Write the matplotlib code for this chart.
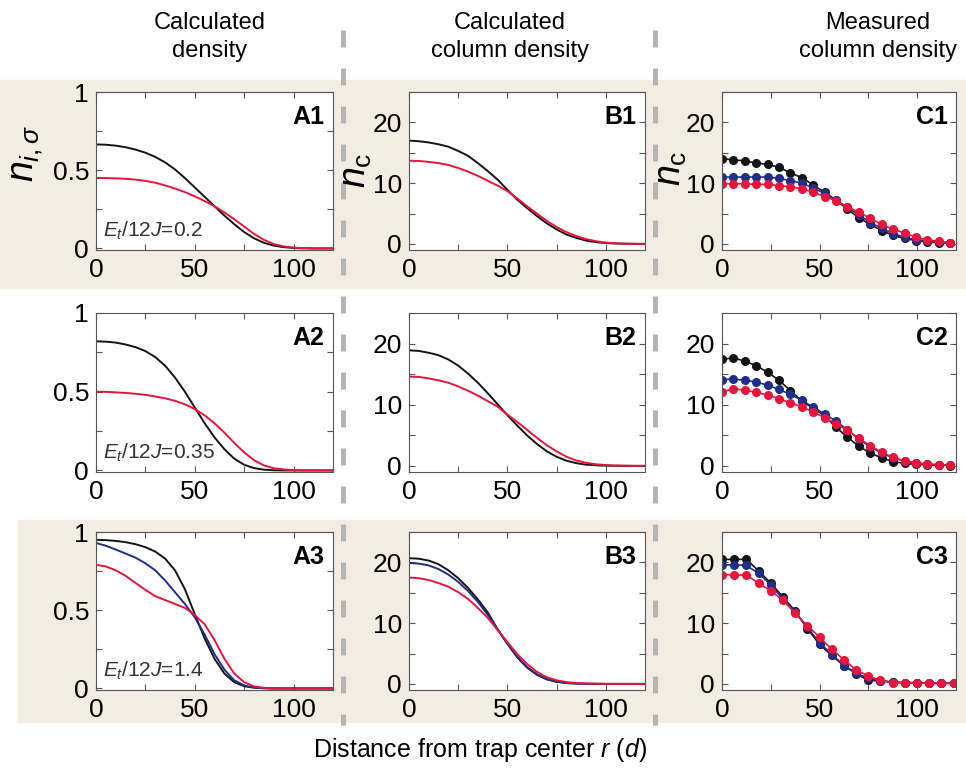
import numpy as np
import matplotlib
matplotlib.use('Agg')
import matplotlib.pyplot as plt
from matplotlib.patches import Rectangle
from matplotlib.lines import Line2D

plt.rcParams['font.family'] = ['Liberation Sans', 'DejaVu Sans']
plt.rcParams['mathtext.fontset'] = 'custom'
plt.rcParams['mathtext.rm'] = 'Liberation Sans'
plt.rcParams['mathtext.it'] = 'Liberation Sans:italic'

# radius grids (lattice sites)
r_calc = np.arange(0, 121, 5)
r_meas = np.arange(21) * 5.85
r_meas3 = np.arange(20) * 6.25

# calculated density (column A)
a1_black = [0.665, 0.663, 0.657, 0.647, 0.632, 0.612, 0.585, 0.55, 0.505, 0.45, 0.39, 0.33,
            0.27, 0.21, 0.155, 0.105, 0.065, 0.036, 0.018, 0.008, 0.003, 0.001, 0, 0, 0]
a1_red = [0.45, 0.45, 0.448, 0.445, 0.44, 0.432, 0.42, 0.403, 0.383, 0.36, 0.333, 0.303,
          0.27, 0.23, 0.187, 0.14, 0.093, 0.055, 0.028, 0.013, 0.005, 0.002, 0, 0, 0]
a2_black = [0.82, 0.818, 0.812, 0.80, 0.783, 0.758, 0.72, 0.665, 0.59, 0.50, 0.40, 0.30,
            0.21, 0.135, 0.075, 0.036, 0.015, 0.005, 0.001, 0, 0, 0, 0, 0, 0]
a2_red = [0.50, 0.499, 0.496, 0.492, 0.487, 0.48, 0.47, 0.458, 0.442, 0.42, 0.39, 0.35,
          0.30, 0.24, 0.175, 0.115, 0.065, 0.032, 0.014, 0.006, 0.002, 0, 0, 0, 0]
a3_black = [0.95, 0.948, 0.943, 0.935, 0.922, 0.903, 0.875, 0.83, 0.755, 0.635, 0.475, 0.32,
            0.19, 0.095, 0.04, 0.014, 0.005, 0.001, 0, 0, 0, 0, 0, 0, 0]
a3_blue = [0.93, 0.912, 0.888, 0.862, 0.836, 0.80, 0.755, 0.69, 0.615, 0.54, 0.455, 0.345,
           0.22, 0.12, 0.052, 0.019, 0.006, 0.002, 0, 0, 0, 0, 0, 0, 0]
a3_red = [0.79, 0.78, 0.755, 0.72, 0.675, 0.63, 0.59, 0.565, 0.54, 0.515, 0.47, 0.41,
          0.31, 0.19, 0.095, 0.04, 0.013, 0.004, 0.001, 0, 0, 0, 0, 0, 0]

# calculated column density (column B)
b1_black = [17.0, 16.9, 16.7, 16.4, 16.0, 15.3, 14.5, 13.3, 12.0, 10.6, 8.9, 7.3, 5.9,
            4.6, 3.4, 2.4, 1.55, 1.0, 0.55, 0.3, 0.15, 0.07, 0.03, 0.01, 0]
b1_red = [13.7, 13.65, 13.5, 13.3, 13.0, 12.5, 11.9, 11.2, 10.4, 9.6, 8.7, 7.5, 6.2,
          5.0, 3.8, 2.8, 1.95, 1.3, 0.8, 0.45, 0.22, 0.1, 0.04, 0.015, 0.005]
b2_black = [18.9, 18.8, 18.5, 18.1, 17.4, 16.4, 15.1, 13.6, 11.9, 10.1, 8.3, 6.6, 5.0,
            3.6, 2.4, 1.5, 0.85, 0.45, 0.2, 0.1, 0.04, 0.015, 0.005, 0, 0]
b2_red = [14.6, 14.55, 14.3, 14.0, 13.6, 13.0, 12.3, 11.5, 10.6, 9.7, 8.4, 7.2, 5.9,
          4.6, 3.4, 2.4, 1.5, 0.9, 0.5, 0.27, 0.13, 0.06, 0.025, 0.01, 0]
b3_black = [20.7, 20.6, 20.3, 19.7, 18.7, 17.4, 15.8, 13.9, 11.8, 9.0, 6.6, 4.4, 2.7,
            1.5, 0.75, 0.35, 0.15, 0.06, 0.02, 0.01, 0, 0, 0, 0, 0]
b3_blue = [19.9, 19.8, 19.5, 18.9, 18.0, 16.8, 15.3, 13.5, 11.4, 9.0, 6.7, 4.5, 2.8,
           1.6, 0.8, 0.38, 0.16, 0.07, 0.03, 0.01, 0, 0, 0, 0, 0]
b3_red = [17.5, 17.4, 17.1, 16.6, 16.0, 15.1, 14.0, 12.5, 10.9, 8.9, 6.9, 4.9, 3.3,
          2.0, 1.1, 0.6, 0.3, 0.15, 0.07, 0.03, 0.01, 0, 0, 0, 0]

# measured column density (column C)
c1_black = [14.05, 13.8, 13.7, 13.3, 13.1, 12.6, 11.7, 10.9, 9.7, 8.5, 7.2, 5.7, 4.3,
            3.2, 2.2, 1.4, 0.9, 0.55, 0.3, 0.2, 0.15]
c1_blue = [11.0, 11.0, 11.0, 11.0, 11.0, 10.8, 10.4, 10.0, 9.2, 8.3, 7.2, 6.0, 4.8,
           3.5, 2.6, 1.7, 1.1, 0.7, 0.45, 0.3, 0.15]
c1_red = [9.9, 9.9, 9.9, 9.8, 9.8, 9.6, 9.4, 9.1, 8.5, 7.8, 7.1, 6.1, 5.2,
          4.2, 3.2, 2.4, 1.8, 1.1, 0.65, 0.45, 0.2]
c2_black = [17.4, 17.7, 17.1, 16.4, 15.3, 14.0, 12.3, 10.6, 9.4, 8.2, 6.3, 4.7, 3.2,
            2.1, 1.3, 0.7, 0.4, 0.25, 0.15, 0.1, 0.05]
c2_blue = [14.1, 14.2, 14.0, 13.7, 13.2, 12.5, 11.7, 10.7, 9.6, 8.5, 7.3, 5.9, 4.4,
           3.1, 2.1, 1.3, 0.8, 0.5, 0.3, 0.2, 0.1]
c2_red = [12.1, 12.6, 12.4, 12.0, 11.6, 11.0, 10.3, 9.7, 8.8, 7.9, 6.9, 5.8, 4.5,
          3.3, 2.2, 1.4, 0.8, 0.45, 0.25, 0.15, 0.1]
c3_black = [20.5, 20.5, 20.5, 18.6, 16.6, 14.3, 12.0, 9.1, 6.5, 4.7, 3.0, 1.7, 0.6,
            0.5, 0.3, 0.2, 0.2, 0.1, 0.1, 0.1]
c3_blue = [19.6, 19.6, 19.5, 18.2, 16.3, 14.0, 11.8, 9.3, 6.8, 4.9, 3.0, 1.8, 0.9,
           0.5, 0.3, 0.2, 0.2, 0.1, 0.1, 0.1]
c3_red = [18.0, 17.9, 17.9, 16.6, 15.3, 13.8, 11.6, 9.6, 7.7, 5.7, 4.0, 2.3, 1.3,
          0.6, 0.2, 0.2, 0.2, 0.1, 0.1, 0.1]

headers = ['Calculated\ndensity', 'Calculated\ncolumn density', 'Measured\ncolumn density']
temps = ['0.2', '0.35', '1.4']

BLACK = '#141414'
BLUE = '#1f2e8c'
RED = '#e8143c'
BEIGE = '#f3ece3'
W, H = 966, 775

fig = plt.figure(figsize=(9.66, 7.75), dpi=100)

# shaded bands behind rows 1 and 3
fig.patches.append(Rectangle((0, 1 - 288 / H), 1, 208 / H, transform=fig.transFigure,
                             color=BEIGE, zorder=-5))
fig.patches.append(Rectangle((18 / W, 1 - 722 / H), 1, 202 / H, transform=fig.transFigure,
                             color=BEIGE, zorder=-5))

# dashed column separators
for xs in (343, 655):
    fig.add_artist(Line2D([xs / W, xs / W], [1 - 30 / H, 1 - 725 / H], transform=fig.transFigure,
                          color='#b4b4b4', lw=3.6, linestyle=(0, (3.4, 4.2)), zorder=-4))

lefts = [96, 409, 722]
widths = [237, 236, 234]
tops = [92, 313, 532]
bottoms = [250, 472, 690]


def make_ax(col, row):
    ax = fig.add_axes([lefts[col] / W, 1 - bottoms[row] / H, widths[col] / W,
                       (bottoms[row] - tops[row]) / H])
    ax.set_facecolor('white')
    ax.set_xlim(0, 120)
    ax.set_xticks([0, 50, 100])
    ax.set_xticks([25, 75], minor=True)
    if col == 0:
        ax.set_ylim(-0.01, 1)
        ax.set_yticks([0, 0.5, 1])
        ax.set_yticklabels(['0', '0.5', '1'])
        ax.set_yticks([0.25, 0.75], minor=True)
    else:
        ax.set_ylim(-1, 25)
        ax.set_yticks([0, 10, 20])
        ax.set_yticks([5, 15, 25], minor=True)
    ax.tick_params(which='both', direction='in', top=True, right=True, length=4,
                   color='#555555', width=0.8, labelsize=19)
    ax.tick_params(axis='x', pad=6)
    ax.tick_params(axis='y', pad=5)
    for s in ax.spines.values():
        s.set_color('#555555')
        s.set_linewidth(0.8)
    ax.text(0.965, 0.84, 'ABC'[col] + str(row + 1), transform=ax.transAxes, ha='right',
            va='center', fontsize=18, fontweight='bold')
    return ax


calc_a = [[a1_black, a1_red], [a2_black, a2_red], [a3_black, a3_blue, a3_red]]
calc_b = [[b1_black, b1_red], [b2_black, b2_red], [b3_black, b3_blue, b3_red]]
meas_c = [[c1_black, c1_blue, c1_red], [c2_black, c2_blue, c2_red], [c3_black, c3_blue, c3_red]]

for row in range(3):
    for col, sets in enumerate([calc_a, calc_b]):
        ax = make_ax(col, row)
        series = sets[row]
        colors = [BLACK, RED] if len(series) == 2 else [BLACK, BLUE, RED]
        for y, c in zip(series, colors):
            ax.plot(r_calc, y, color=c, lw=1.4)
        if col == 0:
            ax.text(0.03, 0.12, r'$E_t$/12$J$=' + temps[row], transform=ax.transAxes,
                    ha='left', va='center', fontsize=15, color='#333333')
    ax = make_ax(2, row)
    rr = r_meas3 if row == 2 else r_meas
    for y, c in zip(meas_c[row], [BLACK, BLUE, RED]):
        ax.plot(rr, y, color=c, lw=1.2, marker='o', ms=5.5)

# column headers
for xc, txt in zip([210, 510, 878], headers):
    fig.text(xc / W, 1 - 37 / H, txt, ha='center', va='center', fontsize=17,
             linespacing=1.4)

# y labels
fig.text(27 / W, 1 - 153 / H, r'$n_{i,\sigma}$', rotation=90, ha='center', va='center',
         fontsize=27)
fig.text(356 / W, 1 - 170 / H, r'$n_{\rm c}$', rotation=90, ha='center', va='center',
         fontsize=27)
fig.text(671 / W, 1 - 168 / H, r'$n_{\rm c}$', rotation=90, ha='center', va='center',
         fontsize=27)

fig.text(480 / W, 1 - 750 / H, r'Distance from trap center $r$ ($d$)', ha='center',
         va='center', fontsize=18)

fig.savefig('out.png', dpi=100, facecolor='white')
